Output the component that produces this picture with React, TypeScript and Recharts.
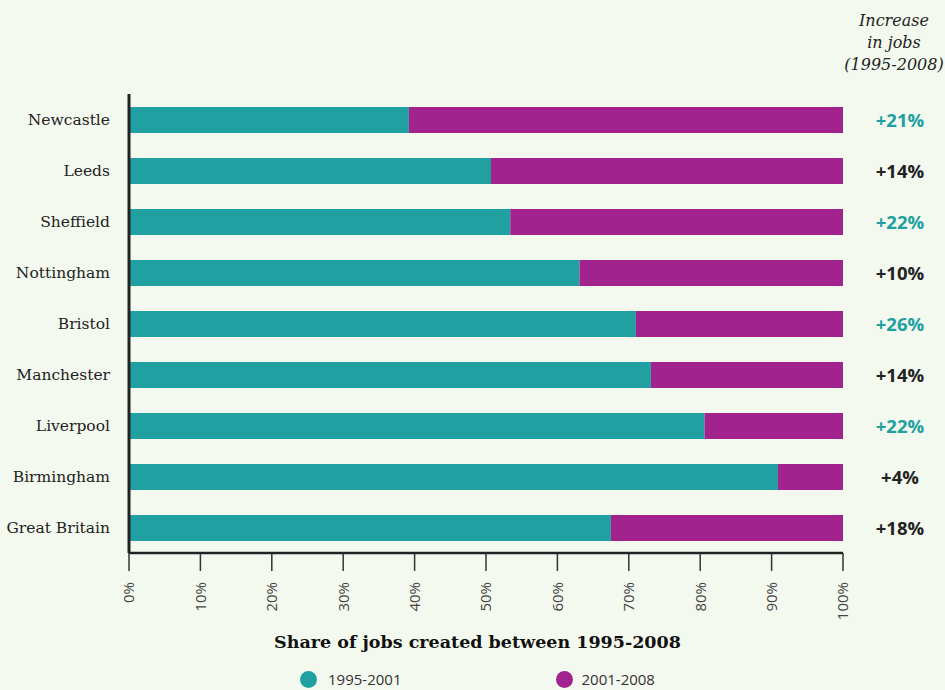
import React from "react";
import { BarChart, Bar, XAxis, YAxis, LabelList, Legend } from "recharts";

const cities = ["Newcastle", "Leeds", "Sheffield", "Nottingham", "Bristol", "Manchester", "Liverpool", "Birmingham", "Great Britain"];
const share19952001 = [39.2, 50.7, 53.4, 63.1, 71.0, 73.1, 80.6, 90.9, 67.5];
const increaseLabels = ["+21%", "+14%", "+22%", "+10%", "+26%", "+14%", "+22%", "+4%", "+18%"];
const highlighted = [true, false, true, false, true, false, true, false, false];
const xTicks = [0, 10, 20, 30, 40, 50, 60, 70, 80, 90, 100];
const seriesNames = ["1995-2001", "2001-2008"];

const TEAL = "#21a0a2";
const PURPLE = "#a2228e";
const BG = "#f4f9ef";

const data = cities.map((c, i) => ({
  city: c,
  a: share19952001[i],
  b: +(100 - share19952001[i]).toFixed(1),
  inc: increaseLabels[i],
}));

const XTick = (props: any) => {
  const { x, y, payload } = props;
  return (
    <text
      transform={`translate(${x},${y + 11}) rotate(-90)`}
      textAnchor="end"
      dy="0.36em"
      fontFamily="Open Sans"
      fontSize={15}
      fill="#444"
    >
      {payload.value}%
    </text>
  );
};

const YTick = (props: any) => {
  const { x, y, payload } = props;
  return (
    <text x={x} y={y} dy="0.36em" textAnchor="end" fontFamily="DejaVu Serif" fontSize={15.5} fill="#222">
      {payload.value}
    </text>
  );
};

const IncLabel = (props: any) => {
  const { x, y, width, height, index } = props;
  const cx = x + width + 57;
  return (
    <text
      x={cx}
      y={y + height / 2}
      dy="0.36em"
      textAnchor="middle"
      fontFamily="Open Sans"
      fontWeight={700}
      fontSize={18.5}
      fill={highlighted[index] ? TEAL : "#222"}
    >
      {increaseLabels[index]}
    </text>
  );
};

const LegendContent = () => (
  <div style={{ display: "flex", justifyContent: "center", gap: 154, fontFamily: "Open Sans", fontSize: 15, color: "#333", lineHeight: "20px" }}>
    {seriesNames.map((n, i) => (
      <div key={n} style={{ display: "flex", alignItems: "center" }}>
        <span style={{ display: "inline-block", width: 17, height: 17, borderRadius: "50%", background: i === 0 ? TEAL : PURPLE, marginRight: i === 0 ? 11 : 9 }} />
        <span>{n}</span>
      </div>
    ))}
  </div>
);

export default function App() {
  return (
    <div style={{ position: "absolute", left: 0, top: 0, width: 945, height: 690, background: BG, overflow: "hidden" }}>
      <div
        style={{
          position: "absolute",
          left: 844,
          width: 100,
          top: 10,
          textAlign: "center",
          fontFamily: "DejaVu Serif",
          fontStyle: "italic",
          fontSize: 16,
          lineHeight: "22px",
          color: "#222",
        }}
      >
        Increase
        <br />
        in jobs
        <br />
        (1995-2008)
      </div>
      <div
        style={{
          position: "absolute",
          left: 0,
          width: 955,
          top: 632,
          textAlign: "center",
          fontFamily: "DejaVu Serif",
          fontWeight: 700,
          fontSize: 17.5,
          color: "#111",
        }}
      >
        Share of jobs created between 1995-2008
      </div>
      <BarChart
        width={945}
        height={690}
        data={data}
        layout="vertical"
        margin={{ top: 94, right: 102, bottom: 57, left: 0 }}
        style={{ position: "absolute", left: 0, top: 0 }}
      >
        <XAxis
          type="number"
          domain={[0, 100]}
          ticks={xTicks}
          interval={0}
          height={60}
          tickSize={18}
          tickMargin={0}
          tick={<XTick />}
          axisLine={{ stroke: "#222", strokeWidth: 2.5 }}
          tickLine={{ stroke: "#333", strokeWidth: 1.5 }}
        />
        <YAxis
          type="category"
          dataKey="city"
          width={129}
          tickSize={0}
          tickMargin={19}
          tick={<YTick />}
          axisLine={{ stroke: "#222", strokeWidth: 3 }}
          tickLine={false}
          interval={0}
        />
        <Legend
          content={<LegendContent />}
          wrapperStyle={{ position: "absolute", top: 669, left: 0, width: 955 }}
        />
        <Bar dataKey="a" name={seriesNames[0]} stackId="s" fill={TEAL} barSize={26} isAnimationActive={false} />
        <Bar dataKey="b" name={seriesNames[1]} stackId="s" fill={PURPLE} barSize={26} isAnimationActive={false}>
          <LabelList dataKey="inc" content={<IncLabel />} />
        </Bar>
      </BarChart>
    </div>
  );
}
